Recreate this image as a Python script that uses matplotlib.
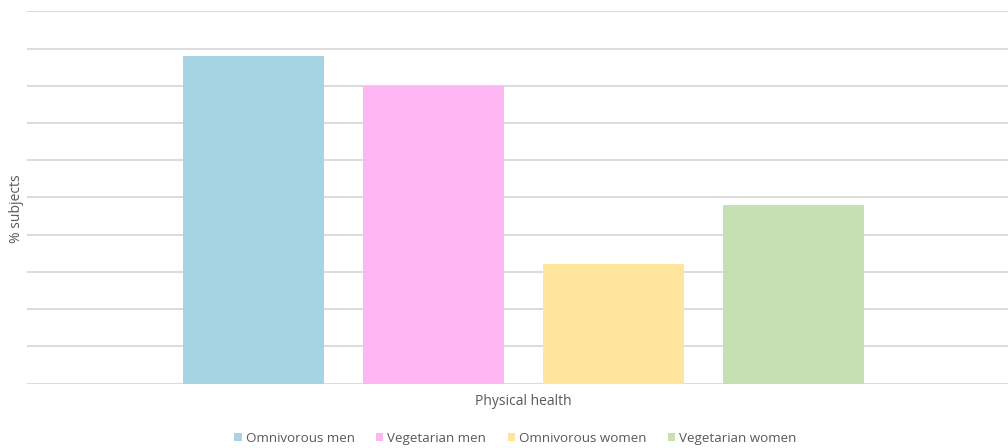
import numpy as np
import matplotlib.pyplot as plt

plt.rcParams['font.family'] = ['Open Sans', 'DejaVu Sans']

series = ['Omnivorous men', 'Vegetarian men', 'Omnivorous women', 'Vegetarian women']
values = [8.8, 8.0, 3.2, 4.8]
colors = ['#a6d4e2', '#fdb6f1', '#fee59b', '#c6e0b4']
category = 'Physical health'

fig = plt.figure(figsize=(10.08, 4.48), dpi=100)
ax = fig.add_axes([27 / 1008, 64.5 / 448, 981 / 1008, 372 / 448])

x = np.arange(len(series))
for i in range(len(series)):
    ax.bar(x[i], values[i], width=0.783, color=colors[i], label=series[i], zorder=2)

ax.set_ylim(0, 10)
ax.set_yticks(np.arange(0, 11, 1))
ax.set_xlim(-1.256, 4.194)
ax.grid(axis='y', color='#dcdcdc', linewidth=1.4, zorder=0)
ax.tick_params(left=False, bottom=False, labelleft=False, labelbottom=False)
for s in ax.spines.values():
    s.set_visible(False)

ax.text(0.506, -0.028, category, transform=ax.transAxes, ha='center', va='top',
        fontsize=10, color='#595959')
ax.text(-0.0102, 0.47, '% subjects', transform=ax.transAxes, rotation=90,
        ha='center', va='center', fontsize=10, color='#595959')

leg = ax.legend(loc='center', bbox_to_anchor=(0.498, -0.148), ncol=4, frameon=False,
                fontsize=9.6, handlelength=0.55, handleheight=0.55, handletextpad=0.3,
                columnspacing=1.6)
for t in leg.get_texts():
    t.set_color('#595959')

fig.savefig('out.png', dpi=100)
